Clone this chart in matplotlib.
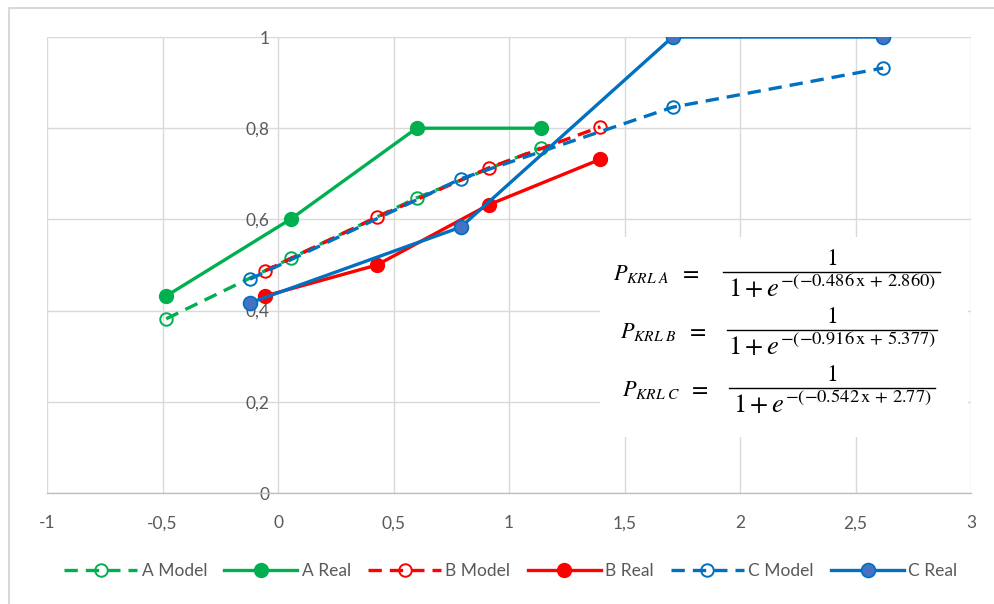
import matplotlib
matplotlib.use("Agg")
import matplotlib.pyplot as plt
from matplotlib.patches import Rectangle
from matplotlib.lines import Line2D
from matplotlib.ticker import FuncFormatter

plt.rcParams['font.family'] = ['Lato', 'DejaVu Sans']
plt.rcParams['mathtext.fontset'] = 'stix'

# values
a_model_x = [-0.484, 0.056, 0.600, 1.137]
a_model_y = [0.382, 0.515, 0.647, 0.757]
a_real_x = [-0.484, 0.056, 0.600, 1.137]
a_real_y = [0.432, 0.601, 0.800, 0.800]

b_model_x = [-0.056, 0.428, 0.912, 1.396]
b_model_y = [0.487, 0.605, 0.713, 0.803]
b_real_x = [-0.056, 0.428, 0.912, 1.396]
b_real_y = [0.432, 0.500, 0.632, 0.732]

c_model_x = [-0.121, 0.791, 1.708, 2.620]
c_model_y = [0.469, 0.689, 0.846, 0.932]
c_real_x = [-0.121, 0.791, 1.708, 2.620]
c_real_y = [0.417, 0.583, 1.000, 1.000]

eq_names = ['A', 'B', 'C']
eq_coef = ['-0.486', '-0.916', '-0.542']
eq_const = ['2.860', '5.377', '2.77']

green = '#00B050'
red = '#FF0000'
blue = '#0070C0'
grey = '#595959'

fig = plt.figure(figsize=(9.94, 6.04), dpi=100)
ax = fig.add_axes([47/994, 1-493/604, (971-47)/994, (493-37)/604])

lw = 2.4
dash = (4, 2.4)
ax.plot(a_model_x, a_model_y, color=green, lw=lw, dashes=dash, marker='o', ms=9,
        mfc='none', mec=green, mew=1.4, label='A Model')
ax.plot(a_real_x, a_real_y, color=green, lw=lw, marker='o', ms=10,
        mfc=green, mec=green, label='A Real')
ax.plot(b_model_x, b_model_y, color=red, lw=lw, dashes=dash, marker='o', ms=9,
        mfc='none', mec=red, mew=1.4, label='B Model')
ax.plot(b_real_x, b_real_y, color=red, lw=lw, marker='o', ms=10,
        mfc=red, mec=red, label='B Real')
ax.plot(c_model_x, c_model_y, color=blue, lw=lw, dashes=dash, marker='o', ms=9,
        mfc='none', mec=blue, mew=1.4, label='C Model')
ax.plot(c_real_x, c_real_y, color=blue, lw=lw, marker='o', ms=10,
        mfc='#4472C4', mec=blue, mew=1.2, label='C Real')

ax.set_xlim(-1, 3)
ax.set_ylim(0, 1)
ax.set_xticks([-1, -0.5, 0, 0.5, 1, 1.5, 2, 2.5, 3])
ax.set_yticks([0, 0.2, 0.4, 0.6, 0.8, 1])
fmt = FuncFormatter(lambda v, p: ('%g' % v).replace('.', ','))
ax.xaxis.set_major_formatter(fmt)
ax.yaxis.set_major_formatter(fmt)
ax.grid(True, color='#d9d9d9', lw=1.0)
ax.set_axisbelow(True)
for s in ['top', 'right', 'left']:
    ax.spines[s].set_visible(False)
ax.spines['bottom'].set_color('#bfbfbf')
ax.spines['bottom'].set_linewidth(1.0)
ax.spines['left'].set_position(('data', 0))
ax.tick_params(axis='both', length=0, labelsize=12.5, labelcolor=grey)
ax.tick_params(axis='x', pad=16)
ax.tick_params(axis='y', pad=6)

# formula box
ax.add_patch(Rectangle((600/994, 1-437/604), (968-600)/994, (437-237)/604,
                       transform=fig.transFigure, facecolor='white', edgecolor='none', zorder=2))

W, H = 994, 604
bar_y = [272, 330, 388]
bar_x0 = [723, 727, 729]
bar_x1 = [940, 937, 935]
lab_x = [613, 620, 622]
for i in range(3):
    yb = bar_y[i]
    fig.text(lab_x[i]/W, 1-(yb+2)/H, r'$P_{\mathbf{\mathit{KRL\ %s}}}$' % eq_names[i],
             fontsize=16, ha='left', va='center')
    fig.text((lab_x[i]+66)/W, 1-(yb+1)/H, r'$=$', fontsize=17, ha='left', va='center')
    fig.add_artist(Line2D([bar_x0[i]/W, bar_x1[i]/W], [1-yb/H, 1-yb/H],
                          transform=fig.transFigure, color='black', lw=1.0))
    xc = (bar_x0[i] + bar_x1[i]) / 2
    fig.text(xc/W, 1-(yb-3)/H, r'$1$', fontsize=17, ha='center', va='bottom')
    den = r'$1+e^{-(%s\,\mathrm{x}\,+\,%s)}$' % (eq_coef[i].replace('-', '{-}'), eq_const[i])
    fig.text(xc/W, 1-(yb+3)/H, den, fontsize=19, ha='center', va='top')

leg = fig.legend(loc='center', bbox_to_anchor=(0.514, 1-571/604), ncol=6, frameon=False,
                 fontsize=12.5, handlelength=4.2, handletextpad=0.25, columnspacing=1.0)
for t in leg.get_texts():
    t.set_color(grey)

# chart area border
fig.add_artist(Line2D([9/994, 9/994, 1], [0, 1-8/604, 1-8/604], transform=fig.transFigure,
                      color='#d9d9d9', lw=1.5))

fig.savefig('out.png', dpi=100)
